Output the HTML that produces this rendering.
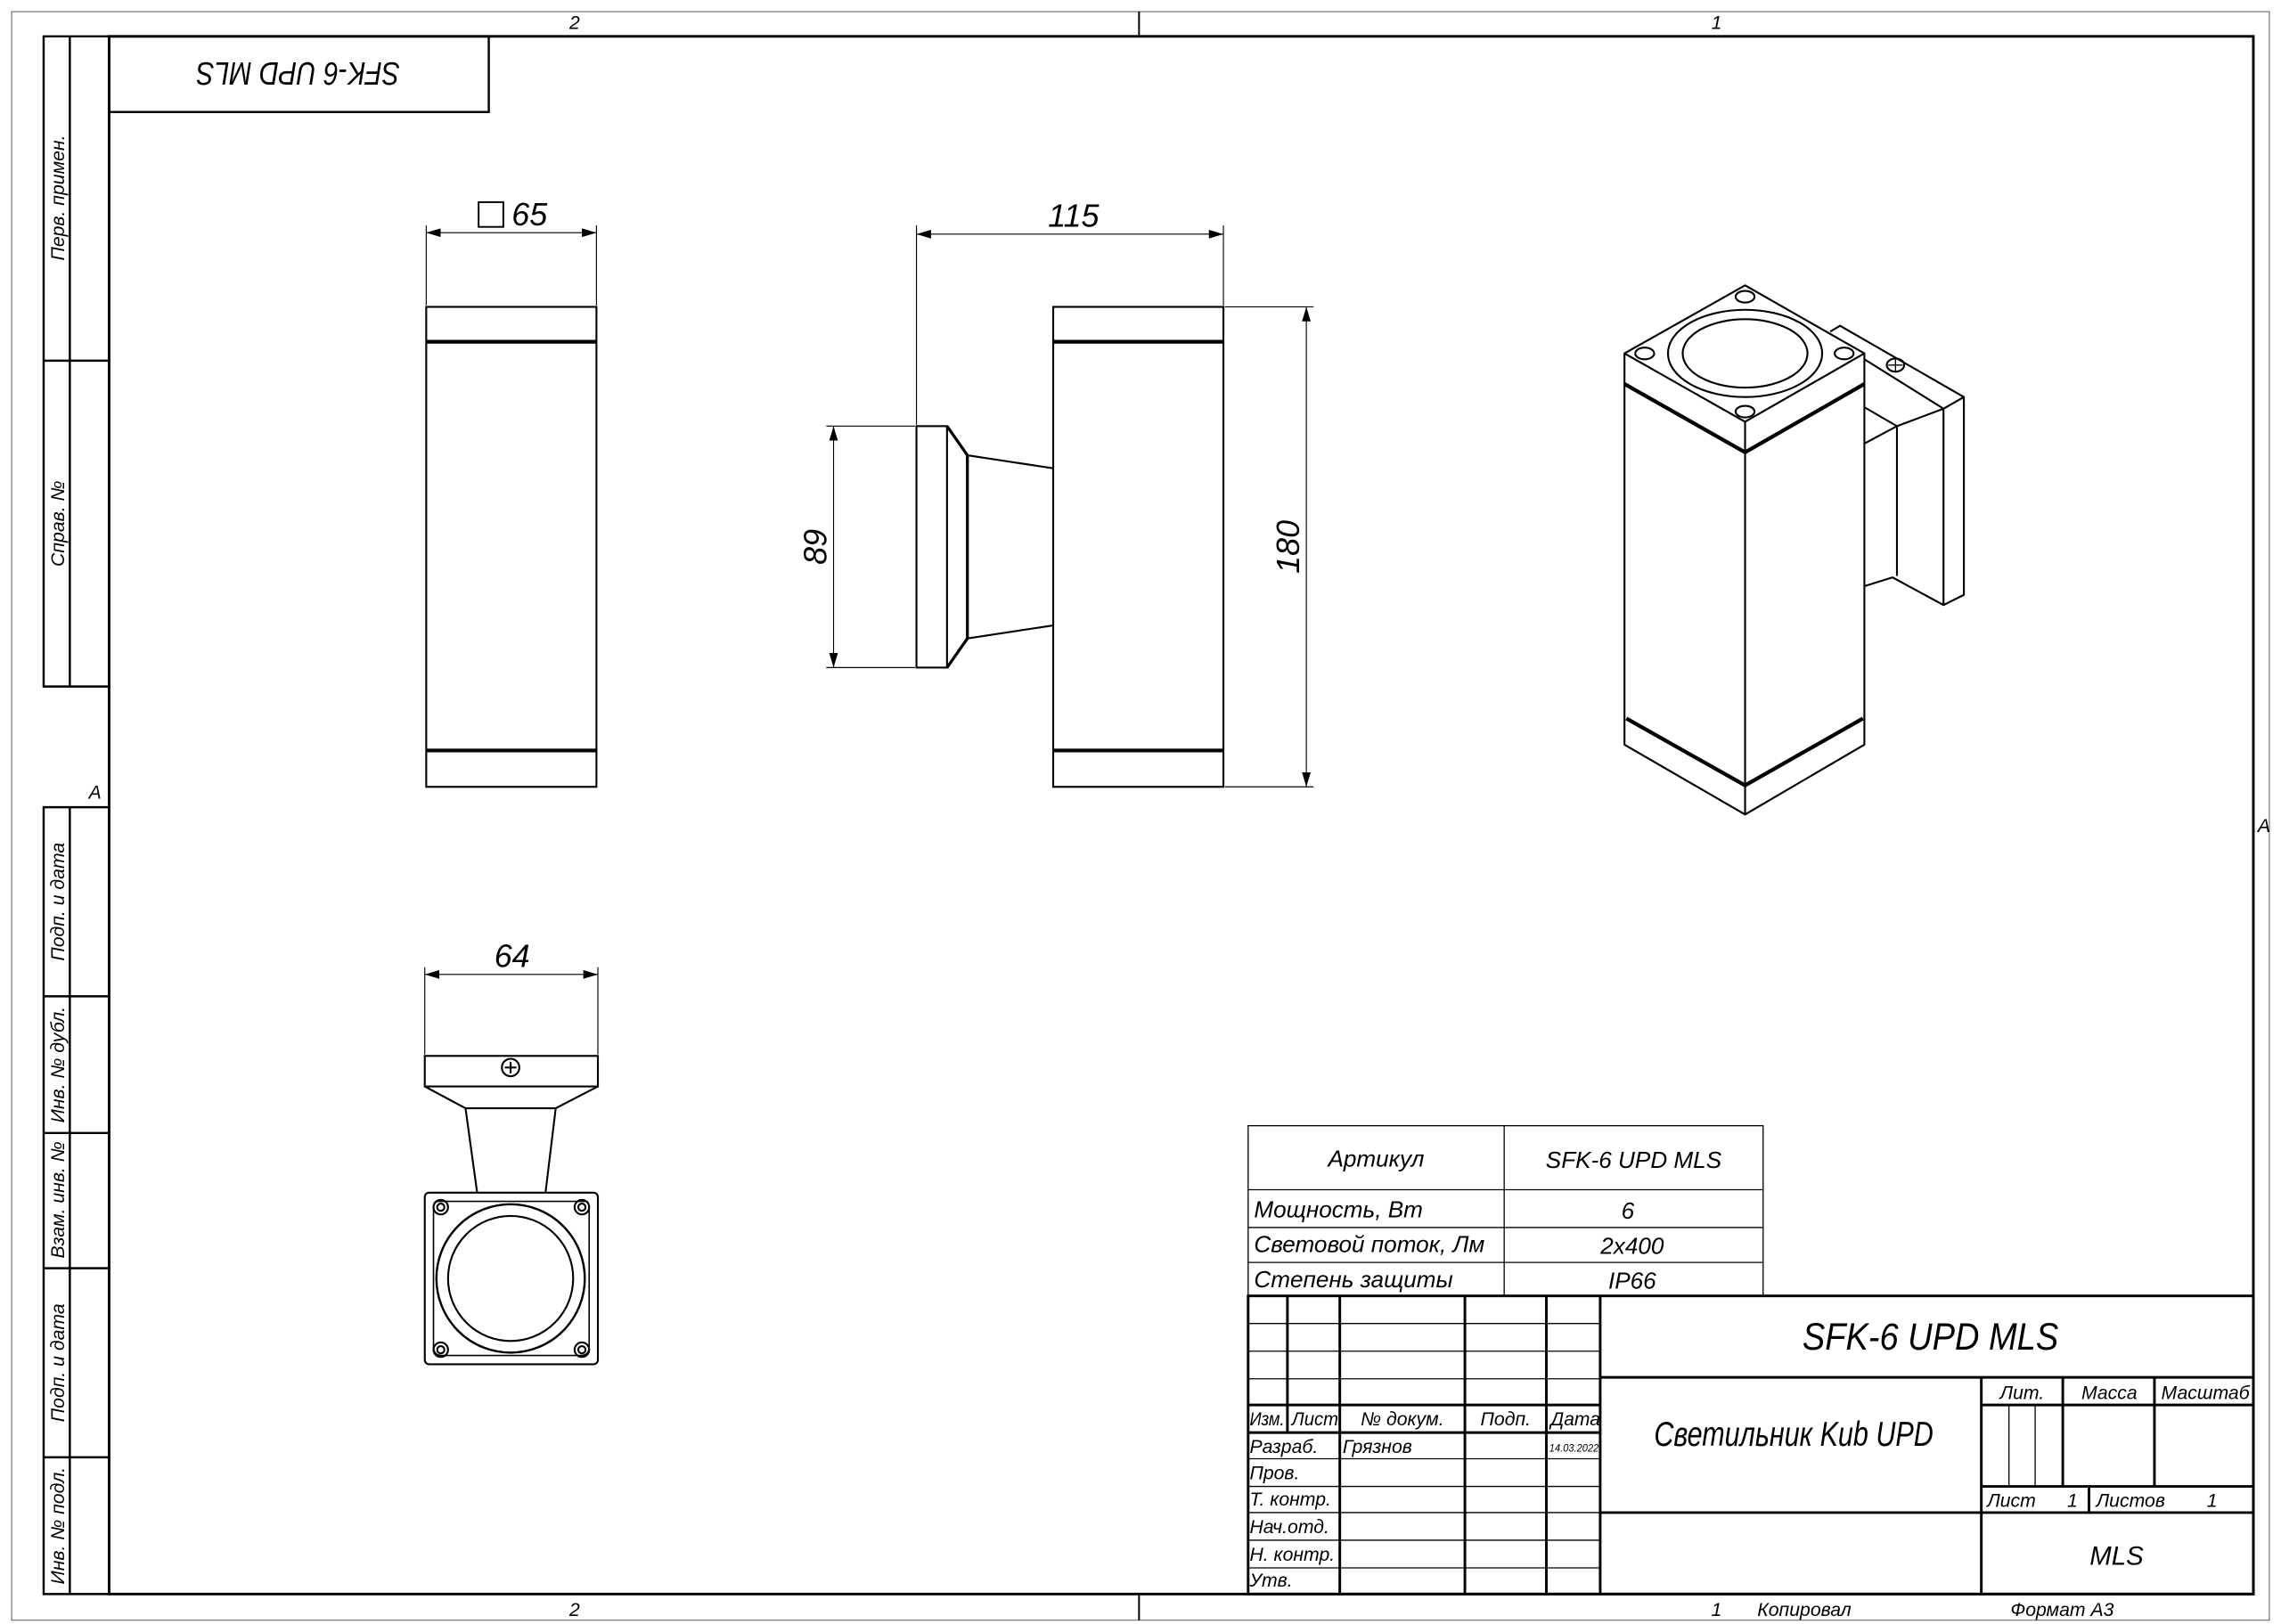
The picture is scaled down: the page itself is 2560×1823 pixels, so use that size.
<!DOCTYPE html>
<html><head><meta charset="utf-8"><style>
html,body{margin:0;padding:0;background:#fff;}
svg{display:block;}
text{font-family:"Liberation Sans Narrow","Liberation Sans","DejaVu Sans",sans-serif;font-style:italic;fill:#000;}
</style></head><body>
<svg width="2560" height="1823" viewBox="0 0 1568 1116.6" preserveAspectRatio="none" xmlns="http://www.w3.org/2000/svg">
<defs>
<marker id="a" viewBox="0 0 10 6" refX="10" refY="3" markerWidth="10" markerHeight="6" markerUnits="userSpaceOnUse" orient="auto-start-reverse"><path d="M0,0 L10,3 L0,6z" fill="#000"/></marker>
</defs>
<rect width="1568" height="1117" fill="#fff"/>
<g fill="none" stroke="#000">
<rect x="8" y="8" width="1552" height="1106" stroke-width="0.6" stroke="#555"/>
<line x1="783" y1="8" x2="783" y2="25" stroke-width="1.2"/>
<line x1="783" y1="1096" x2="783" y2="1114" stroke-width="1.2"/>
<rect x="75" y="25" width="1474" height="1071" stroke-width="1.8"/>
<path d="M75,25 H30 V472 H75 M48,25 V472 M30,248 H75" stroke-width="1.5"/>
<path d="M75,555 H30 V1096 H75 M48,555 V1096 M30,685 H75 M30,779 H75 M30,872 H75 M30,1002 H75" stroke-width="1.5"/>
<rect x="75" y="25" width="261" height="52" stroke-width="1.5"/>

<g stroke-width="1.3">
<rect x="293" y="211" width="117" height="330"/>
<line x1="293" y1="235" x2="410" y2="235" stroke-width="2.6"/>
<line x1="293" y1="516" x2="410" y2="516" stroke-width="2.6"/>
</g>
<g stroke-width="0.7">
<line x1="293" y1="210" x2="293" y2="155"/><line x1="410" y1="210" x2="410" y2="155"/>
<line x1="293" y1="160" x2="410" y2="160" marker-start="url(#a)" marker-end="url(#a)"/>
<rect x="329" y="139" width="17" height="17" stroke-width="1.2"/>
</g>

<g stroke-width="1.3">
<rect x="724" y="211" width="117" height="330"/>
<line x1="724" y1="235" x2="841" y2="235" stroke-width="2.6"/>
<line x1="724" y1="516" x2="841" y2="516" stroke-width="2.6"/>
<rect x="630" y="293" width="21" height="166"/>
<path d="M651,293 L665,313 V439 L651,459" stroke-width="2"/>
<path d="M665,313 L724,322 M665,439 L724,430"/>
</g>
<g stroke-width="0.7">
<line x1="630" y1="292" x2="630" y2="155"/><line x1="841" y1="210" x2="841" y2="155"/>
<line x1="630" y1="161" x2="841" y2="161" marker-start="url(#a)" marker-end="url(#a)"/>
<line x1="629" y1="293" x2="568" y2="293"/><line x1="629" y1="459" x2="568" y2="459"/>
<line x1="573" y1="293" x2="573" y2="459" marker-start="url(#a)" marker-end="url(#a)"/>
<line x1="842" y1="211" x2="903" y2="211"/><line x1="842" y1="541" x2="903" y2="541"/>
<line x1="898" y1="211" x2="898" y2="541" marker-start="url(#a)" marker-end="url(#a)"/>
</g>

<g stroke-width="0.7">
<line x1="292" y1="725" x2="292" y2="665"/><line x1="411" y1="725" x2="411" y2="665"/>
<line x1="292" y1="670" x2="411" y2="670" marker-start="url(#a)" marker-end="url(#a)"/>
</g>
<g stroke-width="1.3">
<rect x="292" y="726" width="119" height="21"/>
<path d="M292,747 L320,762 H382 L411,747 M320,762 L328,820 M382,762 L375,820"/>
<circle cx="351" cy="734" r="6"/><path d="M347,734 H355 M351,730 V738"/>
<rect x="292" y="820" width="119" height="118" rx="3"/>
<path d="M300,826 H403 Q405,826 405,832 V926 Q405,932 399,932 H304 Q298,932 298,926 V832 Q298,826 300,826Z" stroke-width="1"/>
<circle cx="351" cy="879" r="51" stroke-width="1.5"/>
<circle cx="351" cy="879" r="43" stroke-width="1.3"/>
<circle cx="303" cy="830" r="5"/><circle cx="303" cy="830" r="2.5"/>
<circle cx="400" cy="830" r="5"/><circle cx="400" cy="830" r="2.5"/>
<circle cx="303" cy="928" r="5"/><circle cx="303" cy="928" r="2.5"/>
<circle cx="400" cy="928" r="5"/><circle cx="400" cy="928" r="2.5"/>
</g>

<g stroke-width="1.3" stroke-linejoin="round">
<path d="M1199.6,196.2 L1281.6,243 L1199.6,290 L1116.7,243Z"/>
<path d="M1116.7,243 V512 L1199.6,560 L1281.6,512 V243 M1199.6,290 V560"/>
<path d="M1116.7,264 L1199.6,311 L1281.6,264" stroke-width="2.6"/>
<path d="M1118,494 L1199.6,540 L1280.6,494" stroke-width="2.6"/>
<ellipse cx="1199.6" cy="243" rx="53" ry="30"/>
<ellipse cx="1199.6" cy="243" rx="42.9" ry="23.5"/>
<ellipse cx="1199.6" cy="204" rx="6.5" ry="4"/>
<ellipse cx="1130.6" cy="243" rx="6.5" ry="4"/>
<ellipse cx="1267.7" cy="243" rx="6.5" ry="4"/>
<ellipse cx="1199.6" cy="283" rx="6.5" ry="4"/>
<path d="M1258.1,228 L1264.9,224 L1350,273 L1336,281 M1281.6,247 L1336,281 V416 L1350,409 V273"/>
<path d="M1281.6,280 L1304,293 L1336,281 M1281.6,305 L1304,293 V396 M1281.6,403 L1301,397 L1336,416"/>
<ellipse cx="1303" cy="251" rx="6" ry="4.5"/>
<path d="M1298,251 H1308 M1303,247 V255" stroke-width="0.8"/>
</g>

<g stroke-width="0.8">
<rect x="858" y="774" width="354" height="117"/>
<path d="M858,818 H1212 M858,844 H1212 M858,868 H1212 M1034,774 V891"/>
</g>
<g stroke-width="1.8">
<rect x="858" y="891" width="691" height="205"/>
<path d="M885,891 V985 M921,891 V1096 M1007,891 V1096 M1063,891 V1096 M1100,891 V1096"/>
<path d="M858,966 H1100 M858,985 H1100"/>
<path d="M1100,947 H1549 M1100,1040 H1549 M1362,947 V1096 M1362,966 H1549 M1362,1022 H1549 M1418,947 V1022 M1481,947 V1022 M1436,1022 V1040"/>
</g>
<g stroke-width="0.8">
<path d="M858,910 H1100 M858,929 H1100 M858,948 H1100 M858,1003 H1100 M858,1022 H1100 M858,1040 H1100 M858,1059 H1100 M858,1078 H1100 M1381,966 V1022 M1399,966 V1022"/>
</g>
</g>

<g font-size="13">
<text x="395" y="20" text-anchor="middle">2</text>
<text x="1180" y="20" text-anchor="middle">1</text>
<text x="395" y="1111" text-anchor="middle">2</text>
<text x="1180" y="1111" text-anchor="middle">1</text>
<text x="1208" y="1111">Копировал</text>
<text x="1382" y="1111">Формат А3</text>
<text x="61" y="549">А</text>
<text x="1552" y="572">А</text>
</g>
<text transform="translate(205,51) rotate(180)" x="0" y="8" font-size="22" text-anchor="middle" textLength="140" lengthAdjust="spacingAndGlyphs">SFK-6 UPD MLS</text>
<g font-size="13" text-anchor="middle">
<text transform="translate(44,136) rotate(-90)">Перв. примен.</text>
<text transform="translate(44,360) rotate(-90)">Справ. №</text>
<text transform="translate(44,620) rotate(-90)">Подп. и дата</text>
<text transform="translate(44,732) rotate(-90)">Инв. № дубл.</text>
<text transform="translate(44,825) rotate(-90)">Взам. инв. №</text>
<text transform="translate(44,937) rotate(-90)">Подп. и дата</text>
<text transform="translate(44,1049) rotate(-90)">Инв. № подл.</text>
</g>
<g font-size="22" text-anchor="middle">
<text x="364" y="155">65</text>
<text x="738" y="156">115</text>
<text x="352" y="665">64</text>
<text transform="translate(568,376) rotate(-90)">89</text>
<text transform="translate(893,376) rotate(-90)">180</text>
</g>
<g font-size="16">
<text x="946" y="802" text-anchor="middle">Артикул</text>
<text x="1123" y="803" text-anchor="middle">SFK-6 UPD MLS</text>
<text x="862" y="837">Мощность, Вт</text>
<text x="1119" y="838" text-anchor="middle">6</text>
<text x="862" y="861">Световой поток, Лм</text>
<text x="1122" y="862" text-anchor="middle">2x400</text>
<text x="862" y="885">Степень защиты</text>
<text x="1122" y="886" text-anchor="middle">IP66</text>
</g>
<text x="1327" y="928" font-size="26" text-anchor="middle" textLength="176" lengthAdjust="spacingAndGlyphs">SFK-6 UPD MLS</text>
<text x="1233" y="994" font-size="24" text-anchor="middle" textLength="192" lengthAdjust="spacingAndGlyphs">Светильник Kub UPD</text>
<text x="1455" y="1076" font-size="18" text-anchor="middle">MLS</text>
<g font-size="13">
<text x="1390" y="962" text-anchor="middle">Лит.</text>
<text x="1450" y="962" text-anchor="middle">Масса</text>
<text x="1516" y="962" text-anchor="middle">Масштаб</text>
<text x="1366" y="1036">Лист</text><text x="1421" y="1036">1</text>
<text x="1441" y="1036">Листов</text><text x="1517" y="1036">1</text>
<text x="859" y="980" textLength="24" lengthAdjust="spacingAndGlyphs">Изм.</text><text x="888" y="980" textLength="32" lengthAdjust="spacingAndGlyphs">Лист</text>
<text x="964" y="980" text-anchor="middle">№ докум.</text>
<text x="1035" y="980" text-anchor="middle">Подп.</text>
<text x="1066" y="980" textLength="34" lengthAdjust="spacingAndGlyphs">Дата</text>
<text x="859" y="999">Разраб.</text><text x="923" y="999">Грязнов</text>
<text x="1065" y="998" font-size="7.5" textLength="34" lengthAdjust="spacingAndGlyphs">14.03.2022</text>
<text x="859" y="1017">Пров.</text>
<text x="859" y="1035">Т. контр.</text>
<text x="859" y="1054">Нач.отд.</text>
<text x="859" y="1073">Н. контр.</text>
<text x="859" y="1091">Утв.</text>
</g>
</svg>
</body></html>
